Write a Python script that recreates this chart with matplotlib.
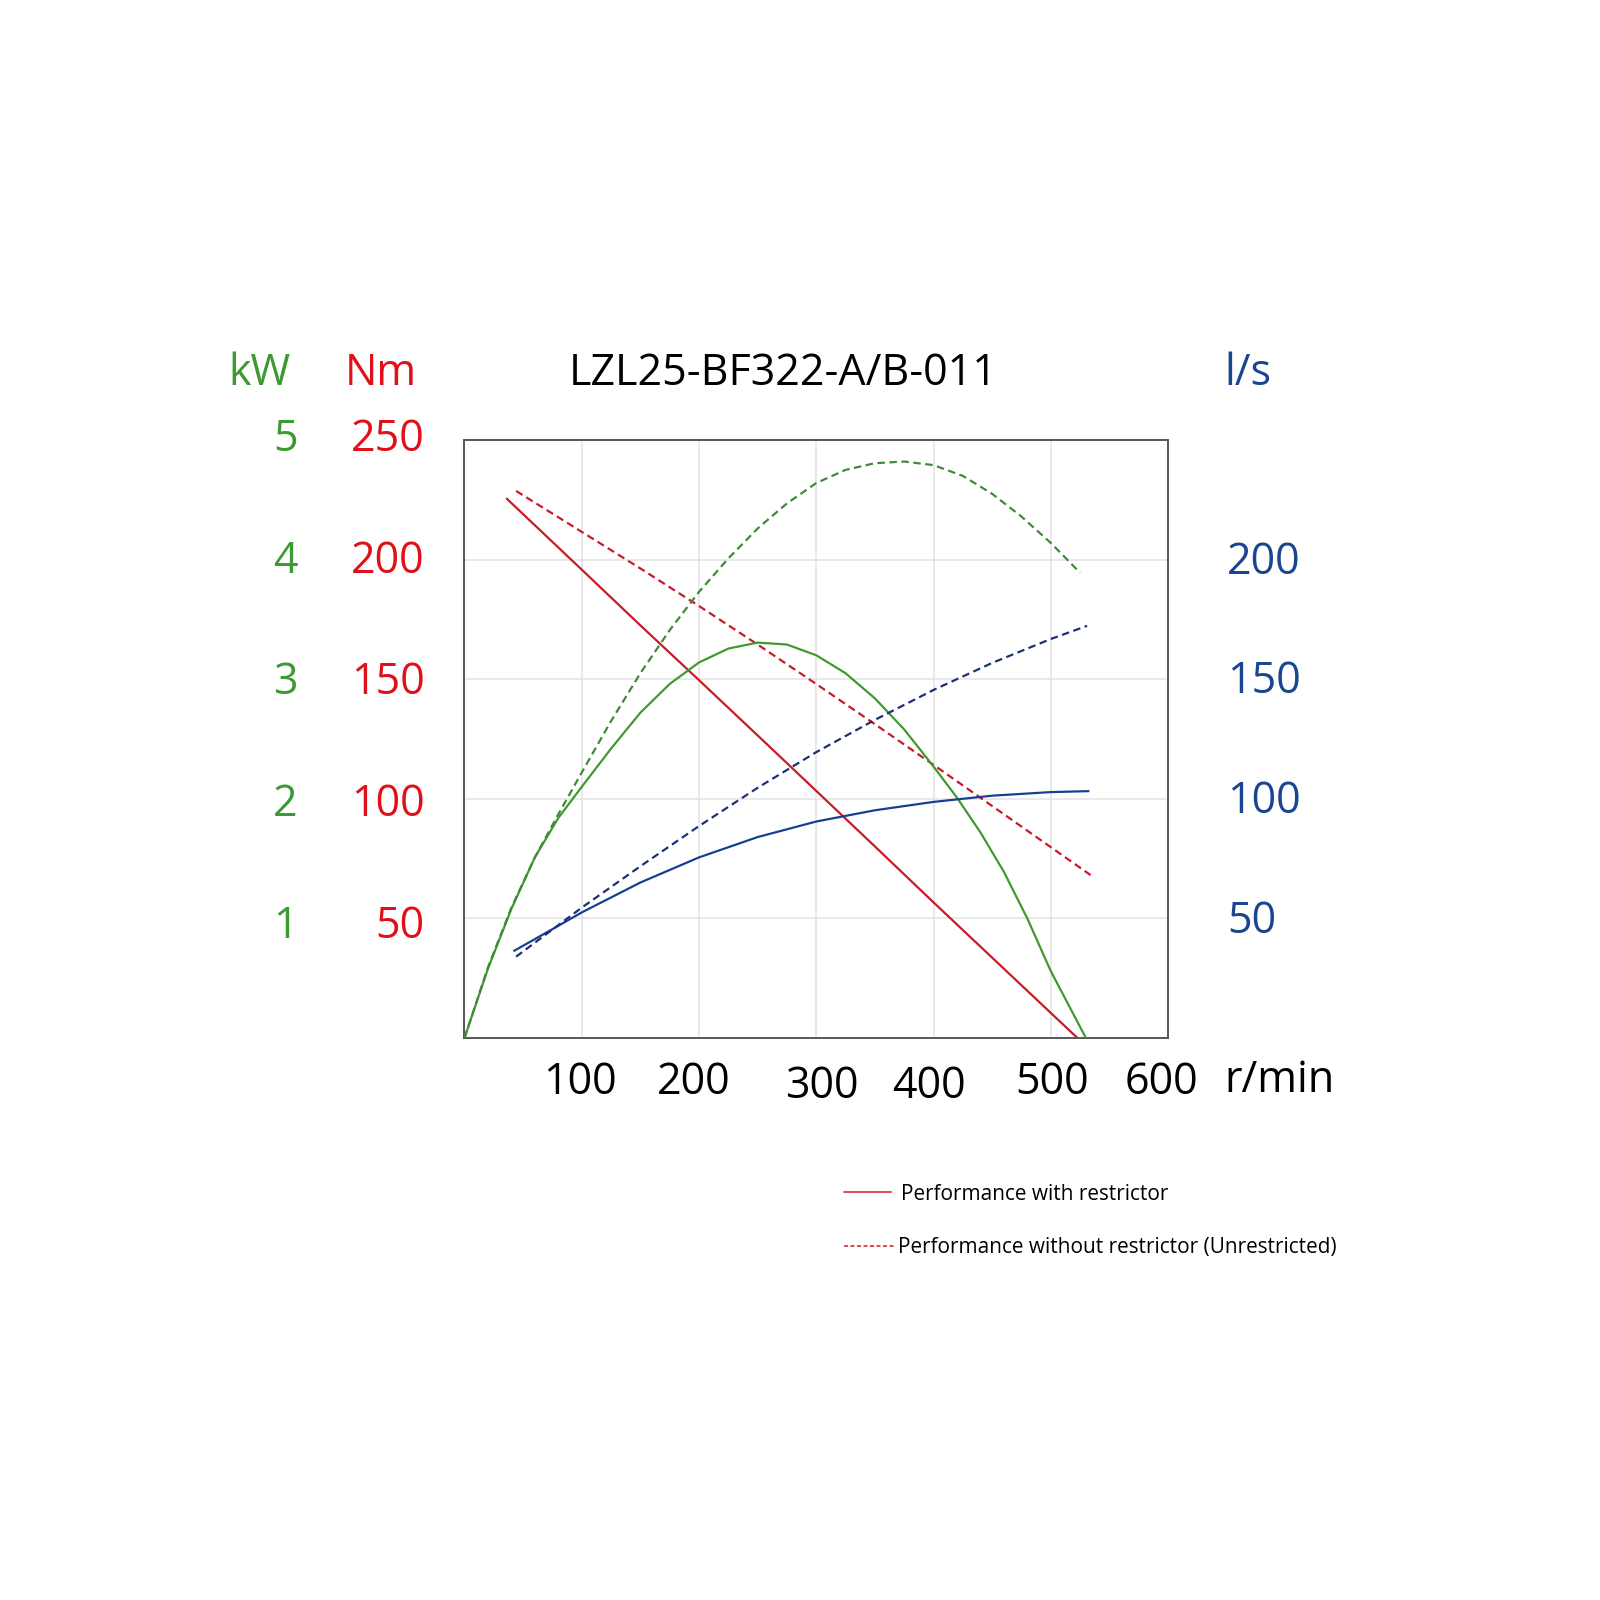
import matplotlib
matplotlib.use("Agg")
import matplotlib.pyplot as plt
from matplotlib.lines import Line2D

plt.rcParams['font.family'] = ['Open Sans', 'DejaVu Sans']
plt.rcParams['lines.scale_dashes'] = False

# ---------------- data ----------------
title = "LZL25-BF322-A/B-011"
x_ticks = [100, 200, 300, 400, 500, 600]
nm_ticks = [50, 100, 150, 200, 250]
kw_ticks = [1, 2, 3, 4, 5]
ls_ticks = [50, 100, 150, 200]

# torque (Nm)
torque_r_rpm = [36.2, 100, 150, 200, 250, 300, 350, 400, 450, 500, 522.8]
torque_r_val = [225.4, 195.8, 172.5, 149.6, 126.5, 103.3, 80.1, 56.7, 33.6, 10.5, 0]
torque_u_rpm = [44, 100, 150, 200, 250, 300, 350, 400, 450, 500, 534]
torque_u_val = [228.7, 211.6, 196.3, 180.6, 164.5, 148, 131.2, 114.2, 97, 79.8, 68.1]

# power (kW)
power_r_rpm = [0, 20, 40, 60, 80, 100, 125, 150, 175, 200, 225, 250, 275,
               300, 325, 350, 375, 400, 420, 440, 460, 480, 500, 515, 530]
power_r_val = [0, 0.58, 1.08, 1.51, 1.84, 2.10, 2.42, 2.72, 2.96, 3.14, 3.256,
               3.306, 3.29, 3.20, 3.05, 2.84, 2.58, 2.27, 2.01, 1.72, 1.39,
               1.00, 0.56, 0.28, 0]
power_u_rpm = [0, 20, 40, 60, 80, 100, 125, 150, 175, 200, 225, 250, 275,
               300, 325, 350, 375, 400, 425, 450, 475, 500, 525]
power_u_val = [0, 0.59, 1.09, 1.51, 1.87, 2.22, 2.65, 3.05, 3.41, 3.73, 4.01,
               4.26, 4.47, 4.64, 4.75, 4.806, 4.82, 4.79, 4.70, 4.55, 4.36,
               4.14, 3.89]

# air consumption (l/s)
air_r_rpm = [42.5, 75, 100, 150, 200, 250, 300, 350, 400, 450, 500, 532]
air_r_val = [36.5, 45.5, 52.5, 65, 75.5, 84, 90.5, 95.2, 98.7, 101.3, 102.8, 103.2]
air_u_rpm = [44, 100, 150, 200, 250, 300, 350, 400, 450, 500, 531]
air_u_val = [34, 54.5, 71.8, 88.6, 104.6, 119.5, 133, 145.5, 156.8, 166.8, 172.3]

legend_labels = ["Performance with restrictor",
                 "Performance without restrictor (Unrestricted)"]

# ---------------- style ----------------
RED_LINE = "#c81927"
RED_TXT = "#e01019"
GREEN_LINE = "#3f9a2e"
GREEN_DASH = "#3e8a36"
GREEN_TXT = "#3b9b32"
BLUE_LINE = "#163f92"
BLUE_DASH = "#1c2f78"
BLUE_TXT = "#1a4590"
GRID = "#e2e2e6"
DASH = (7.5, 4.5)
LW = 2.2

W = H = 1600
fig = plt.figure(figsize=(W / 72, H / 72), dpi=72)

def fx(x):
    return x / W

def fy(y):
    return 1 - y / H

L, R, T, B = 464.5, 1168, 440, 1038
rect = [fx(L), fy(B), fx(R) - fx(L), fy(T) - fy(B)]
ax = fig.add_axes(rect)
ax_kw = ax.twinx()
ax_ls = ax.twinx()

ax.set_xlim(0, 600)
ax.set_ylim(0, 250)
ax_kw.set_ylim(0, 5)
ax_ls.set_ylim(0, 250)

for a in (ax, ax_kw, ax_ls):
    a.set_xticks([])
    a.set_yticks([])
    for s in a.spines.values():
        s.set_visible(False)
for s in ax.spines.values():
    s.set_visible(True)
    s.set_color("#5a5a5a")
    s.set_linewidth(2)

# grid
for v in x_ticks[:-1]:
    ax.axvline(v, color=GRID, lw=1.5, zorder=0)
for v in nm_ticks[:-1]:
    ax.axhline(v, color=GRID, lw=1.5, zorder=0)

# curves
ax.plot(torque_r_rpm, torque_r_val, color=RED_LINE, lw=LW)
ax.plot(torque_u_rpm, torque_u_val, color=RED_LINE, lw=LW, dashes=DASH)
ax_kw.plot(power_r_rpm, power_r_val, color=GREEN_LINE, lw=LW)
ax_kw.plot(power_u_rpm, power_u_val, color=GREEN_DASH, lw=LW, dashes=DASH)
ax_ls.plot(air_r_rpm, air_r_val, color=BLUE_LINE, lw=LW)
ax_ls.plot(air_u_rpm, air_u_val, color=BLUE_DASH, lw=LW, dashes=DASH)

TICK_FS = 43
# left tick labels (kW and Nm)
left_dy = [-8, -6, -4, -2, 0]
for v, k, dy in zip(nm_ticks, kw_ticks, left_dy):
    ax.annotate(str(v), xy=(0, v), xycoords=('axes fraction', 'data'),
                xytext=(-40, dy), textcoords='offset points',
                ha='right', va='center', color=RED_TXT, fontsize=TICK_FS)
    ax.annotate(str(k), xy=(0, v), xycoords=('axes fraction', 'data'),
                xytext=(-166.5, dy), textcoords='offset points',
                ha='right', va='center', color=GREEN_TXT, fontsize=TICK_FS)

# right tick labels (l/s)
for v in ls_ticks:
    ax_ls.annotate(str(v), xy=(1, v), xycoords=('axes fraction', 'data'),
                   xytext=(59, -3), textcoords='offset points',
                   ha='left', va='center', color=BLUE_TXT, fontsize=TICK_FS)

# bottom tick labels
x_dx = [-2, -5.5, 6, -5, 1, -6.5]
x_dy = [-45, -45, -49, -49, -45, -45]
for v, dx, dy in zip(x_ticks, x_dx, x_dy):
    ax.annotate(str(v), xy=(v, 0), xycoords=('data', 'axes fraction'),
                xytext=(dx, dy), textcoords='offset points',
                ha='center', va='center', color='black', fontsize=TICK_FS)
fig.text(fx(1224.5), fy(1081), "r/min", ha='left', va='center',
         color='black', fontsize=TICK_FS)

# units and title
HEAD_FS = 43
fig.text(fx(259.5), fy(385), "kW", ha='center', va='baseline', color=GREEN_TXT, fontsize=HEAD_FS)
fig.text(fx(380.5), fy(385), "Nm", ha='center', va='baseline', color=RED_TXT, fontsize=HEAD_FS)
fig.text(fx(1224), fy(385), "l/s", ha='left', va='baseline', color=BLUE_TXT, fontsize=HEAD_FS)
fig.text(fx(783.5), fy(385), title, ha='center', va='baseline', color='black', fontsize=HEAD_FS)

# legend (manual)
LEG_FS = 20.8
fig.add_artist(Line2D([fx(844), fx(891)], [fy(1192), fy(1192)], color=RED_TXT, lw=1.5))
fig.text(fx(901), fy(1194), legend_labels[0], ha='left', va='center', fontsize=LEG_FS, color='black')
fig.add_artist(Line2D([fx(844), fx(895)], [fy(1246), fy(1246)], color=RED_TXT, lw=1.5, dashes=(4, 2.5)))
fig.text(fx(898), fy(1247), legend_labels[1], ha='left', va='center', fontsize=LEG_FS, color='black')

fig.savefig("out.png", dpi=72, facecolor='white')
